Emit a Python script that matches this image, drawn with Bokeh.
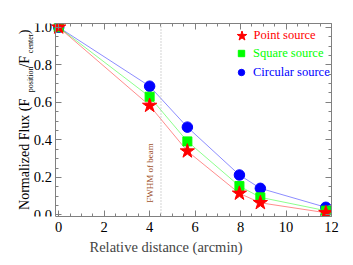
import math
from bokeh.plotting import figure
from bokeh.models import (LinearAxis, SingleIntervalTicker, Span, Label, Legend, LegendItem, Range1d,
                          PrintfTickFormatter, CustomJSTickFormatter)
from bokeh.embed import file_html
from bokeh.resources import INLINE

# ---- data ----
distance = [0, 4, 5.66, 7.95, 8.87, 11.75]
point_src = [1.0, 0.583, 0.340, 0.115, 0.065, 0.012]
square_src = [1.0, 0.630, 0.392, 0.154, 0.094, 0.023]
circular_src = [1.0, 0.686, 0.468, 0.213, 0.142, 0.041]
fwhm = 4.5
x_ticks_interval = 2
y_ticks_interval = 0.2

FONT = "'Liberation Serif', serif"
AX = "#808080"
X_LO = -0.123   # left edge of the plotted box
X_HI = 12.0

p = figure(frame_width=331, frame_height=193, output_backend="svg", toolbar_location=None,
           x_range=Range1d(-2.56, X_HI), y_range=Range1d(-0.008, 1.02),
           min_border_left=0, min_border_right=22, min_border_top=23, min_border_bottom=49)
p.background_fill_color = "white"
p.border_fill_color = "white"
p.outline_line_color = None
p.xgrid.visible = False
p.ygrid.visible = False

def style_axis(ax):
    ax.axis_line_color = AX
    ax.major_tick_line_color = AX
    ax.minor_tick_line_color = AX
    ax.major_tick_in = 6
    ax.major_tick_out = 0
    ax.minor_tick_in = 3
    ax.minor_tick_out = 0
    ax.major_label_text_font = FONT
    ax.major_label_text_font_size = "14.5px"
    ax.major_label_text_color = "black"
    ax.major_label_standoff = 5

p.xaxis.ticker = SingleIntervalTicker(interval=x_ticks_interval, num_minor_ticks=4)
p.yaxis.ticker = SingleIntervalTicker(interval=y_ticks_interval, num_minor_ticks=4)
for ax in p.xaxis:
    style_axis(ax)
    ax.bounds = (X_LO, X_HI)
    ax.axis_label = "Relative distance (arcmin)"
    ax.axis_label_text_font = FONT
    ax.axis_label_text_font_size = "14.5px"
    ax.axis_label_text_font_style = "normal"
    ax.axis_label_standoff = 4
for ax in p.yaxis:
    style_axis(ax)
    ax.fixed_location = X_LO
    ax.major_label_standoff = 4
    ax.formatter = PrintfTickFormatter(format="%.1f")

blank = CustomJSTickFormatter(code="return ''")
top = LinearAxis(ticker=SingleIntervalTicker(interval=x_ticks_interval, num_minor_ticks=4),
                 formatter=blank, bounds=(X_LO, X_HI))
style_axis(top)
p.add_layout(top, "above")
right = LinearAxis(ticker=SingleIntervalTicker(interval=y_ticks_interval, num_minor_ticks=4), formatter=blank)
style_axis(right)
p.add_layout(right, "right")

# FWHM line
p.add_layout(Span(location=fwhm, dimension="height", line_color="#aaaaaa", line_dash="1 2", line_width=1))
p.add_layout(Label(x=4.0, y=0.065, text="FWHM of beam", angle=math.pi / 2, text_font=FONT,
                   text_font_size="9px", text_color="#A0522D", text_baseline="alphabetic", text_align="left"))

# lines
p.line(distance, circular_src, line_color="#0000ff", line_alpha=0.45, line_width=1)
p.line(distance, square_src, line_color="#00ff00", line_alpha=0.45, line_width=1)
p.line(distance, point_src, line_color="#ff0000", line_alpha=0.45, line_width=1)

c = p.scatter(distance, circular_src, marker="circle", size=10.5, fill_color="#0000ff", line_color="#0000ff")
s = p.scatter(distance, square_src, marker="square", size=9, fill_color="#00ff00", line_color="#00ff00")
st = p.scatter(distance, point_src, marker="star", size=15, fill_color="#ff0000", line_color="#ff0000")

def mk_legend(label, rend, color, x, y, box, standoff):
    lg = Legend(items=[LegendItem(label=label, renderers=[rend])], location=(x, y),
                orientation="vertical", padding=0, margin=0, spacing=0,
                border_line_alpha=0, background_fill_alpha=0,
                glyph_width=box, glyph_height=box, label_standoff=standoff,
                label_text_font=FONT, label_text_font_size="12.5px", label_text_color=color,
                label_height=box)
    p.add_layout(lg, "center")

mk_legend("Point source", st, "#ff0000", 228.5, 168.5, 25, 0)
mk_legend("Square source", s, "#00ff00", 233, 155, 16, 4)
mk_legend("Circular source", c, "#0000ff", 233, 136, 16, 4)

# y-axis label pieces with subscripts
def ylab(txt, x, y, size):
    p.add_layout(Label(x=x, y=y, text=txt, angle=math.pi / 2,
                       text_font=FONT, text_font_size=size, text_color="black",
                       text_align="left", text_baseline="alphabetic"))

ylab("Normalized Flux (F", -1.50, 0.027, "14px")
ylab("position", -1.24, 0.654, "8px")
ylab("/F", -1.50, 0.785, "14px")
ylab("center", -1.26, 0.862, "8px")
ylab(")", -1.50, 0.963, "14px")

open("out.html", "w").write(file_html(p, INLINE))
